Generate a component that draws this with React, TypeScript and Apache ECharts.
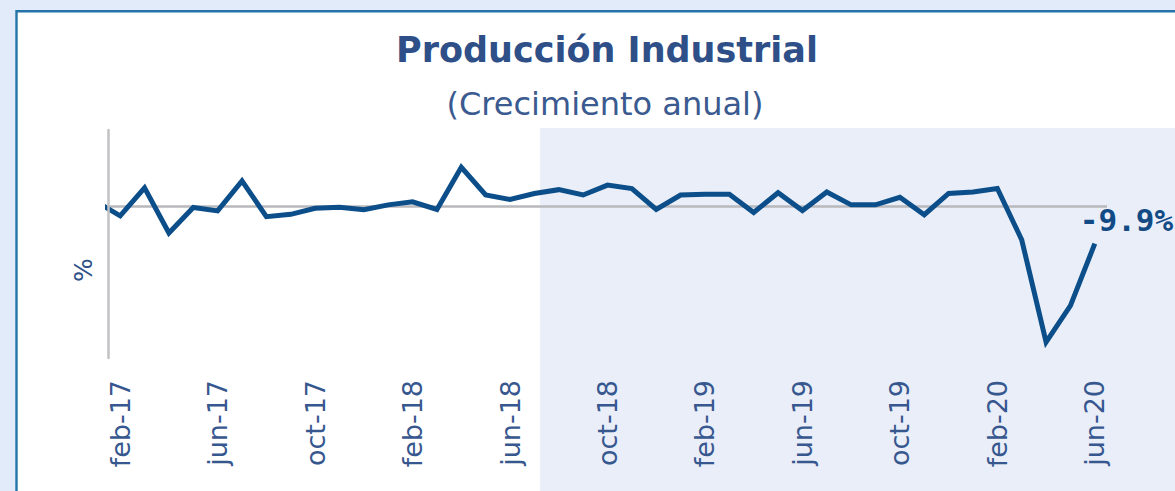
import React, { useEffect, useRef } from "react";
import * as echarts from "echarts";

// Months (first one, ene-17, lies just left of the plot and is clipped)
const months = [
  "ene-17", "feb-17", "mar-17", "abr-17", "may-17", "jun-17", "jul-17", "ago-17", "sep-17", "oct-17", "nov-17", "dic-17",
  "ene-18", "feb-18", "mar-18", "abr-18", "may-18", "jun-18", "jul-18", "ago-18", "sep-18", "oct-18", "nov-18", "dic-18",
  "ene-19", "feb-19", "mar-19", "abr-19", "may-19", "jun-19", "jul-19", "ago-19", "sep-19", "oct-19", "nov-19", "dic-19",
  "ene-20", "feb-20", "mar-20", "abr-20", "may-20", "jun-20",
];

// Annual growth of industrial production (%)
const growth = [
  1.2,
  -2.6, 4.8, -7.1, -0.4, -1.3, 6.6, -2.8, -2.2, -0.6, -0.3, -1.0,
  0.3, 1.1, -0.9, 10.2, 2.9, 1.7, 3.3, 4.3, 2.9, 5.5, 4.6, -0.9,
  2.9, 3.1, 3.1, -1.7, 3.5, -1.2, 3.7, 0.3, 0.3, 2.3, -2.3, 3.3,
  3.7, 4.6, -8.9, -35.8, -26.2, -9.9,
];

const firstShownMonth = "feb-17";
const tickEvery = 4;
// shaded period starts on 7 Aug 2018 (position in month units after jul-18)
const shadeFromMonth = "jul-18";
const shadeFromFraction = 7 / 31;

const titleText = "Producción Industrial";
const subtitleText = "(Crecimiento anual)";
const yName = "%";

export default function App() {
  const ref = useRef<HTMLDivElement>(null);

  useEffect(() => {
    if (!ref.current) return;
    const chart = echarts.init(ref.current, null, { renderer: "svg" });

    const offset = months.indexOf(firstShownMonth);
    const points = growth.map((v, i) => [i - offset, v]);
    const lastIdx = months.length - 1 - offset;
    const ticks: number[] = [];
    for (let i = 0; i <= lastIdx; i += tickEvery) ticks.push(i);

    const labelColor = "#37578f";

    chart.setOption({
      animation: false,
      backgroundColor: "#e2ebfa",
      grid: { left: 108, right: 68, top: 130, bottom: 133, containLabel: false },
      xAxis: {
        type: "value",
        min: -0.5,
        max: lastIdx + 0.5,
        z: 4,
        axisLine: { show: false },
        axisTick: { show: false, customValues: ticks },
        splitLine: { show: false },
        axisLabel: {
          customValues: ticks,
          rotate: 90,
          margin: 22,
          fontSize: 27,
          fontFamily: "DejaVu Sans",
          color: labelColor,
          formatter: (v: number) => months[Math.round(v) + offset],
        },
      },
      yAxis: {
        type: "value",
        min: -40,
        max: 20,
        z: 4,
        axisLine: { show: true, onZero: false, lineStyle: { color: "#c2c2c4", width: 2.5 } },
        axisTick: { show: false },
        axisLabel: { show: false },
        splitLine: { show: false },
      },
      series: [
        {
          type: "line",
          data: points,
          symbol: "none",
          z: 3,
          clip: true,
          lineStyle: { color: "#0c4e89", width: 5, join: "miter" },
          endLabel: {
            show: true,
            distance: 0,
            align: "left",
            verticalAlign: "middle",
            offset: [-15, -24],
            formatter: (p: any) => `${p.value[1]}%`,
            fontFamily: "DejaVu Sans Mono",
            fontWeight: "bold",
            fontSize: 31,
            color: "#124a85",
            textBorderWidth: 0,
          },
          markLine: {
            silent: true,
            symbol: "none",
            z: 2,
            label: { show: false },
            lineStyle: { color: "#b9b9bd", width: 2.5, type: "solid" },
            data: [{ yAxis: 0 }],
          },
        },
      ],
    });

    const shadeX = chart.convertToPixel(
      { xAxisIndex: 0 },
      months.indexOf(shadeFromMonth) - offset + shadeFromFraction
    ) as number;
    const gridTop = chart.convertToPixel({ yAxisIndex: 0 }, 20) as number;

    chart.setOption({
      graphic: [
        {
          id: "panel",
          type: "rect",
          z: 0,
          silent: true,
          shape: { x: 16.5, y: 11.3, width: 1300, height: 600 },
          style: { fill: "#ffffff", stroke: "#2574a9", lineWidth: 2.4 },
        },
        {
          id: "shade",
          type: "rect",
          z: 1,
          silent: true,
          shape: { x: shadeX, y: gridTop - 2, width: 1300, height: 600 },
          style: { fill: "#e9eef8" },
        },
        {
          id: "title",
          type: "text",
          z: 6,
          x: 607,
          y: 50,
          style: {
            text: titleText,
            fontFamily: "DejaVu Sans",
            fontWeight: "bold",
            fontSize: 35,
            fill: "#2e4f87",
            textAlign: "center",
            textVerticalAlign: "middle",
          },
        },
        {
          id: "subtitle",
          type: "text",
          z: 6,
          x: 605,
          y: 104,
          style: {
            text: subtitleText,
            fontFamily: "DejaVu Sans",
            fontSize: 32,
            fill: "#3a5a90",
            textAlign: "center",
            textVerticalAlign: "middle",
          },
        },
        {
          id: "yname",
          type: "text",
          z: 6,
          x: 83,
          y: 270,
          rotation: Math.PI / 2,
          style: {
            text: yName,
            fontFamily: "DejaVu Sans",
            fontSize: 25,
            fill: "#2e4f87",
            textAlign: "center",
            textVerticalAlign: "middle",
          },
        },
      ],
    });

    return () => chart.dispose();
  }, []);

  return (
    <div
      ref={ref}
      style={{ position: "fixed", left: 0, top: 0, width: 1175, height: 491 }}
    />
  );
}
